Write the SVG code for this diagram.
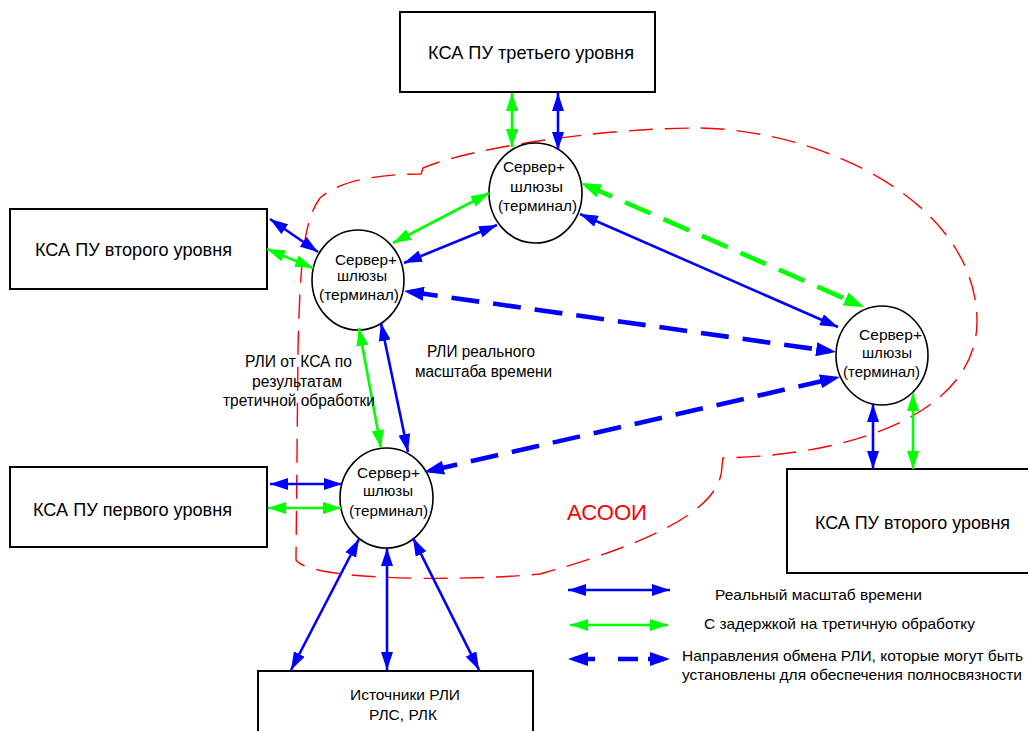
<svg xmlns="http://www.w3.org/2000/svg" width="1028" height="731" viewBox="0 0 1028 731">
<defs>
<style>
.box{fill:#fff;stroke:#000;stroke-width:2}
.node{fill:#fff;stroke:#000;stroke-width:1.6}
text{font-family:"Liberation Sans",Arial,sans-serif;fill:#000}
.bt{font-size:19px}
.ct{font-size:15px}
.lb{font-size:16px}
.lg{font-size:14.5px}
.src{font-size:15px}
.zt{font-size:22px;fill:#ff0000}
.b{stroke:#0000ff;stroke-width:2.6;fill:none;marker-start:url(#ab);marker-end:url(#ab)}
.g{stroke:#00ff00;stroke-width:2.6;fill:none;marker-start:url(#ag);marker-end:url(#ag)}
.bd{stroke:#0000ff;stroke-width:4.6;fill:none;stroke-dasharray:28 14;marker-start:url(#abd);marker-end:url(#abd)}
.gd{stroke:#00ff00;stroke-width:4.6;fill:none;stroke-dasharray:28 14;marker-start:url(#agd);marker-end:url(#agd)}
.zone{fill:none;stroke:#ff0000;stroke-width:1.4;stroke-dasharray:24 12}
</style>
<marker id="ab" markerUnits="userSpaceOnUse" markerWidth="18" markerHeight="12" refX="18" refY="6" orient="auto-start-reverse"><path d="M0,0 L18,6 L0,12 z" fill="#0000ff"/></marker>
<marker id="ag" markerUnits="userSpaceOnUse" markerWidth="18" markerHeight="12" refX="18" refY="6" orient="auto-start-reverse"><path d="M0,0 L18,6 L0,12 z" fill="#00ff00"/></marker>
<marker id="abd" markerUnits="userSpaceOnUse" markerWidth="20" markerHeight="14" refX="14" refY="7" orient="auto-start-reverse"><path d="M0,0 L20,7 L0,14 z" fill="#0000ff"/></marker>
<marker id="agd" markerUnits="userSpaceOnUse" markerWidth="20" markerHeight="14" refX="14" refY="7" orient="auto-start-reverse"><path d="M0,0 L20,7 L0,14 z" fill="#00ff00"/></marker>
</defs>
<rect width="1028" height="731" fill="#fff"/>

<g id="zone-asooi">
<path class="zone" d="M 421 174 L 423 168 C 470 148 600 128 700 128 C 820 130 975 200 977 320 C 978 410 860 455 723 458 L 722 466 C 722 500 680 535 540 574 C 450 582 310 580 296 560 L 298 350 C 300 260 304 220 320 198 C 340 180 380 174 421 174 Z"/>
<text class="zt" x="567" y="520" textLength="80" lengthAdjust="spacingAndGlyphs">АСООИ</text>
</g>

<g id="ksa-level3">
<rect class="box" x="400" y="12" width="255" height="80"/>
<text class="bt" x="428" y="59" textLength="206" lengthAdjust="spacingAndGlyphs">КСА ПУ третьего уровня</text>
</g>
<g id="ksa-level2-left">
<rect class="box" x="10" y="209" width="257" height="80"/>
<text class="bt" x="35" y="256" textLength="197" lengthAdjust="spacingAndGlyphs">КСА ПУ второго уровня</text>
</g>
<g id="ksa-level1">
<rect class="box" x="10" y="467" width="257" height="80"/>
<text class="bt" x="33" y="516" textLength="199" lengthAdjust="spacingAndGlyphs">КСА ПУ первого уровня</text>
</g>
<g id="ksa-level2-right">
<rect class="box" x="787" y="469" width="260" height="104"/>
<text class="bt" x="815" y="529" textLength="195" lengthAdjust="spacingAndGlyphs">КСА ПУ второго уровня</text>
</g>
<g id="sources">
<rect class="box" x="258" y="671" width="275" height="80"/>
<text class="src" x="350" y="700" textLength="110" lengthAdjust="spacingAndGlyphs">Источники РЛИ</text>
<text class="src" x="369" y="720" textLength="68" lengthAdjust="spacingAndGlyphs">РЛС, РЛК</text>
</g>

<g id="server-top">
<ellipse class="node" cx="535.5" cy="193" rx="46.5" ry="50"/>
<text class="ct" x="503" y="172" textLength="62" lengthAdjust="spacingAndGlyphs">Сервер+</text>
<text class="ct" x="510" y="192" textLength="53" lengthAdjust="spacingAndGlyphs">шлюзы</text>
<text class="ct" x="498" y="211" textLength="79" lengthAdjust="spacingAndGlyphs">(терминал)</text>
</g>
<g id="server-left">
<ellipse class="node" cx="358" cy="280" rx="46" ry="50"/>
<text class="ct" x="335" y="265" textLength="62" lengthAdjust="spacingAndGlyphs">Сервер+</text>
<text class="ct" x="337" y="281" textLength="50" lengthAdjust="spacingAndGlyphs">шлюзы</text>
<text class="ct" x="319" y="300" textLength="80" lengthAdjust="spacingAndGlyphs">(терминал)</text>
</g>
<g id="server-bottom">
<ellipse class="node" cx="386.5" cy="498" rx="46.5" ry="50"/>
<text class="ct" x="357" y="478" textLength="63" lengthAdjust="spacingAndGlyphs">Сервер+</text>
<text class="ct" x="363" y="496" textLength="50" lengthAdjust="spacingAndGlyphs">шлюзы</text>
<text class="ct" x="349" y="516" textLength="79" lengthAdjust="spacingAndGlyphs">(терминал)</text>
</g>
<g id="server-right">
<ellipse class="node" cx="882" cy="355.5" rx="46" ry="49.5"/>
<text class="ct" x="859" y="340" textLength="63" lengthAdjust="spacingAndGlyphs">Сервер+</text>
<text class="ct" x="862" y="358" textLength="50" lengthAdjust="spacingAndGlyphs">шлюзы</text>
<text class="ct" x="843" y="377" textLength="77" lengthAdjust="spacingAndGlyphs">(терминал)</text>
</g>

<g id="connectors">
<line class="g" x1="512" y1="93" x2="512" y2="147"/>
<line class="b" x1="558" y1="93" x2="558" y2="150"/>
<line class="g" x1="489" y1="193" x2="393" y2="243"/>
<line class="b" x1="497" y1="225" x2="404" y2="263"/>
<line class="gd" x1="586.5" y1="185.4" x2="858.5" y2="304.6"/>
<line class="b" x1="580" y1="214" x2="838" y2="327"/>
<line class="bd" x1="409.9" y1="291.8" x2="830.1" y2="351.2"/>
<line class="bd" x1="429.9" y1="470.7" x2="834.1" y2="378.3"/>
<line class="b" x1="270" y1="219" x2="318" y2="252"/>
<line class="g" x1="267" y1="249" x2="313" y2="268"/>
<line class="g" x1="359" y1="328" x2="381" y2="448"/>
<line class="b" x1="381" y1="323" x2="408" y2="452"/>
<line class="b" x1="270" y1="484" x2="342" y2="484"/>
<line class="g" x1="268" y1="508" x2="341" y2="508"/>
<line class="b" x1="359" y1="539" x2="291" y2="670"/>
<line class="b" x1="387" y1="548" x2="387" y2="670"/>
<line class="b" x1="413" y1="538" x2="479" y2="670"/>
<line class="b" x1="873" y1="404" x2="873" y2="469"/>
<line class="g" x1="913" y1="393" x2="913" y2="469"/>
</g>

<g id="labels">
<text class="lb" x="245" y="367" textLength="107" lengthAdjust="spacingAndGlyphs">РЛИ от КСА по</text>
<text class="lb" x="252" y="387" textLength="90" lengthAdjust="spacingAndGlyphs">результатам</text>
<text class="lb" x="223" y="406" textLength="152" lengthAdjust="spacingAndGlyphs">третичной обработки</text>
<text class="lb" x="427" y="357" textLength="108" lengthAdjust="spacingAndGlyphs">РЛИ реального</text>
<text class="lb" x="415" y="377" textLength="137" lengthAdjust="spacingAndGlyphs">масштаба времени</text>
</g>

<g id="legend">
<line class="b" x1="568" y1="590" x2="670" y2="590"/>
<line class="g" x1="570" y1="625" x2="668" y2="625"/>
<line class="bd" x1="574" y1="659" x2="664" y2="659" style="stroke-dasharray:21 23 20 10 16 100"/>
<text class="lg" x="715" y="600" textLength="207" lengthAdjust="spacingAndGlyphs">Реальный масштаб времени</text>
<text class="lg" x="704" y="629" textLength="271" lengthAdjust="spacingAndGlyphs">С задержкой на третичную обработку</text>
<text class="lg" x="682" y="661" textLength="341" lengthAdjust="spacingAndGlyphs">Направления обмена РЛИ, которые могут быть</text>
<text class="lg" x="682" y="680" textLength="340" lengthAdjust="spacingAndGlyphs">установлены для обеспечения полносвязности</text>
</g>
</svg>
